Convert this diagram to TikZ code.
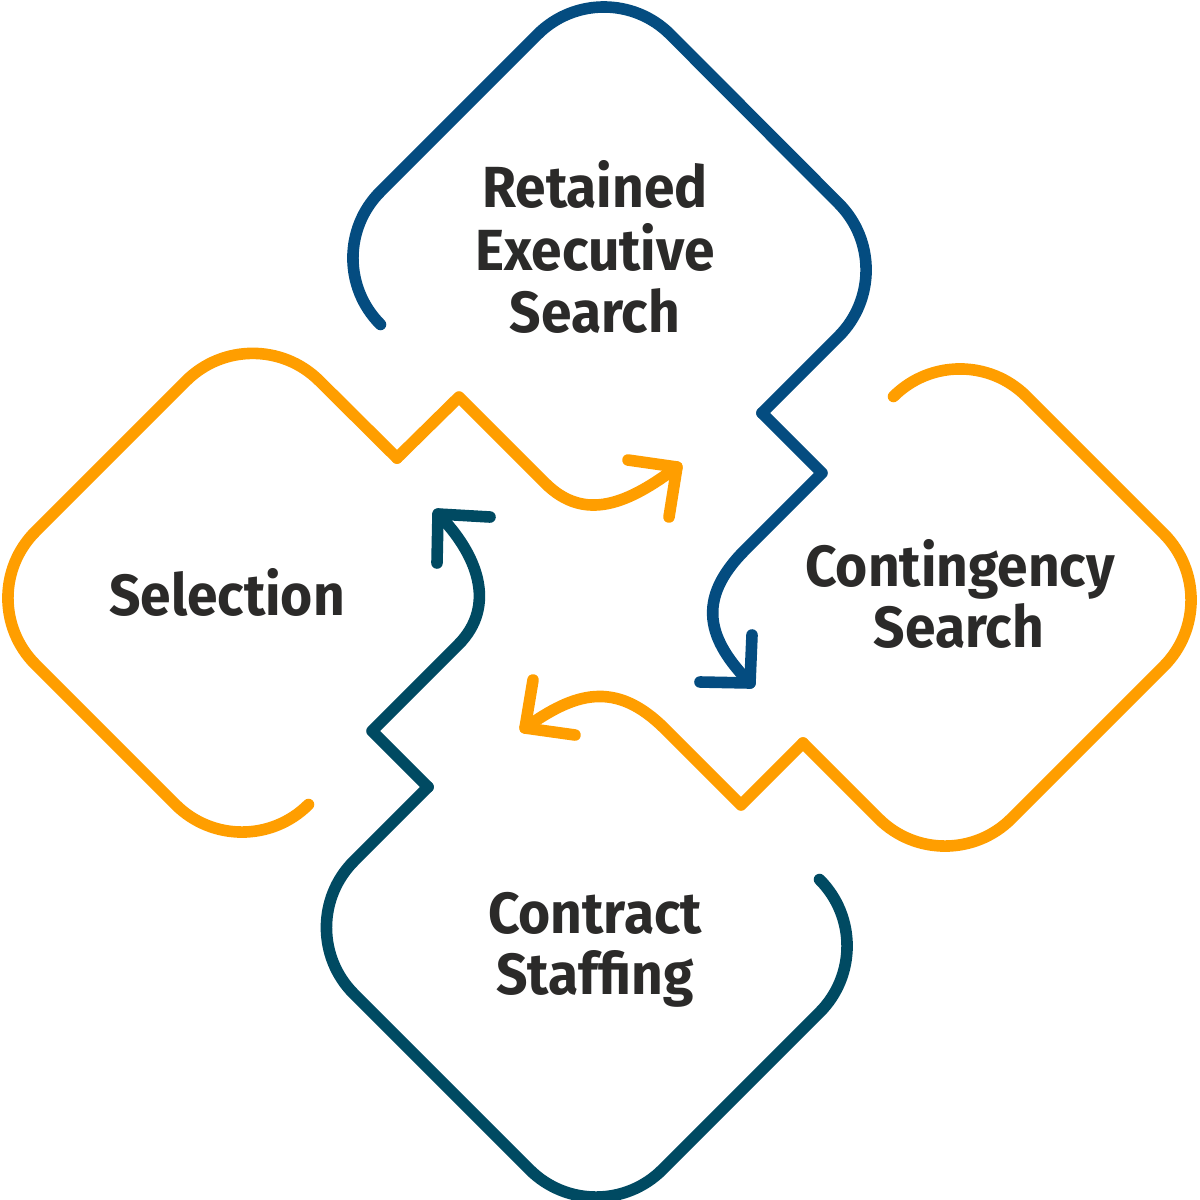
\documentclass[tikz,border=0pt]{standalone}
\usepackage{fontspec}
\setmainfont{Fira Sans}
\definecolor{topblue}{RGB}{4,76,128}
\definecolor{botteal}{RGB}{0,74,98}
\definecolor{amber}{RGB}{255,158,0}
\definecolor{txtgray}{RGB}{43,42,41}
\begin{document}
\begin{tikzpicture}[x=0.5pt,y=-0.5pt,line cap=round,line join=round,
  ring/.style={line width=5.8pt,rounded corners=47pt},
  zig/.style={line width=5.8pt},
  lbl/.style={font=\bfseries\fontsize{29}{31}\selectfont,text=txtgray,anchor=base,inner sep=0pt,xscale=0.95}]
\useasboundingbox (0,0) rectangle (1200,1200);

% ---------- top: Retained Executive Search (blue)
\coordinate (b0) at (380,324);
\coordinate (b1) at (314,258);
\coordinate (b2) at (604,-32);
\coordinate (b3) at (905,270);
\coordinate (b4) at (762,413);
\coordinate (b5) at (822,473);
\coordinate (b6) at (745,550);
\coordinate (bt) at (750,683);
\coordinate (bw1) at (700,682);
\coordinate (bw2) at (752,635);
\draw[ring,topblue] (b0) -- (b1) -- (b2) -- (b3) -- (b4);
\draw[zig,topblue] (b4) -- (b5) -- (b6) .. controls (695,600) and (708,640) .. (bt);
\draw[zig,topblue] (bw1) -- (bt) -- (bw2);

% ---------- right: Contingency Search (orange)
\coordinate (r0) at (894,396);
\coordinate (r1) at (960,330);
\coordinate (r2) at (1230,600);
\coordinate (r3) at (945,885);
\coordinate (r4) at (803,743);
\coordinate (r5) at (741,805);
\coordinate (r6) at (665,729);
\coordinate (rt) at (525,728);
\coordinate (rw1) at (533,680);
\coordinate (rw2) at (575,735);
\draw[ring,amber] (r0) -- (r1) -- (r2) -- (r3) -- (r4);
\draw[zig,amber] (r4) -- (r5) -- (r6) .. controls (615,679) and (574,693) .. (rt);
\draw[zig,amber] (rw1) -- (rt) -- (rw2);

% ---------- bottom: Contract Staffing (teal)
\coordinate (t0) at (820,880);
\coordinate (t1) at (886,946);
\coordinate (t2) at (596,1236);
\coordinate (t3) at (287.5,927.5);
\coordinate (t4) at (428,787);
\coordinate (t5) at (372,731);
\coordinate (t6) at (458,645);
\coordinate (tt) at (438,514);
\coordinate (tw1) at (490,517);
\coordinate (tw2) at (437,563);
\draw[ring,botteal] (t0) -- (t1) -- (t2) -- (t3) -- (t4);
\draw[zig,botteal] (t4) -- (t5) -- (t6) .. controls (498,605) and (476.5,553) .. (tt);
\draw[zig,botteal] (tw1) -- (tt) -- (tw2);

% ---------- left: Selection (orange)
\coordinate (l0) at (308,805);
\coordinate (l1) at (242,871);
\coordinate (l2) at (-31,598);
\coordinate (l3) at (252.5,314.5);
\coordinate (l4) at (397,458);
\coordinate (l5) at (459,397);
\coordinate (l6) at (545,483);
\coordinate (lt) at (677,467);
\coordinate (lw1) at (628,460);
\coordinate (lw2) at (669,517);
\draw[ring,amber] (l0) -- (l1) -- (l2) -- (l3) -- (l4);
\draw[zig,amber] (l4) -- (l5) -- (l6) .. controls (585,523) and (629,503) .. (lt);
\draw[zig,amber] (lw1) -- (lt) -- (lw2);

% ---------- labels
\node[lbl] (ret1) at (595,207) {Retained};
\node[lbl] (ret2) at (595,270) {Executive};
\node[lbl] (ret3) at (595,332) {Search};
\node[lbl] (con1) at (960,586) {Contingency};
\node[lbl] (con2) at (959,647) {Search};
\node[lbl] (cst1) at (595,933) {Contract};
\node[lbl] (cst2) at (595,994) {Staffing};
\node[lbl] (sel) at (227,615) {Selection};
\end{tikzpicture}
\end{document}
